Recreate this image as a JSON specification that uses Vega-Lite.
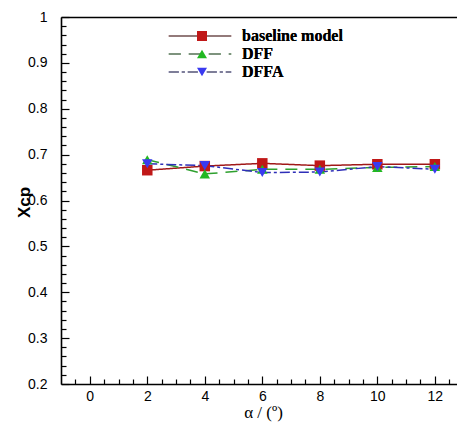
{
  "$schema": "https://vega.github.io/schema/vega-lite/v6.json",
  "width": 396,
  "height": 367,
  "autosize": "none",
  "padding": {"left": 61, "top": 17, "right": 0, "bottom": 38},
  "background": "white",
  "config": {"view": {"stroke": null}},
  "data": {
    "values": [
      {"series": "baseline model", "alpha": 2, "Xcp": 0.666},
      {"series": "baseline model", "alpha": 4, "Xcp": 0.675},
      {"series": "baseline model", "alpha": 6, "Xcp": 0.681},
      {"series": "baseline model", "alpha": 8, "Xcp": 0.676},
      {"series": "baseline model", "alpha": 10, "Xcp": 0.679},
      {"series": "baseline model", "alpha": 12, "Xcp": 0.679},
      {"series": "DFF", "alpha": 2, "Xcp": 0.689},
      {"series": "DFF", "alpha": 4, "Xcp": 0.658},
      {"series": "DFF", "alpha": 6, "Xcp": 0.668},
      {"series": "DFF", "alpha": 8, "Xcp": 0.668},
      {"series": "DFF", "alpha": 10, "Xcp": 0.672},
      {"series": "DFF", "alpha": 12, "Xcp": 0.674},
      {"series": "DFFA", "alpha": 2, "Xcp": 0.680},
      {"series": "DFFA", "alpha": 4, "Xcp": 0.676},
      {"series": "DFFA", "alpha": 6, "Xcp": 0.661},
      {"series": "DFFA", "alpha": 8, "Xcp": 0.662},
      {"series": "DFFA", "alpha": 10, "Xcp": 0.674},
      {"series": "DFFA", "alpha": 12, "Xcp": 0.668}
    ]
  },
  "resolve": {"axis": {"x": "independent", "y": "independent"}},
  "layer": [
    {
      "mark": {"type": "line", "strokeWidth": 1.5},
      "encoding": {
        "x": {
          "field": "alpha", "type": "quantitative",
          "scale": {"domain": [-1, 12.77], "nice": false, "zero": false},
          "axis": {
            "orient": "bottom", "values": [0, 2, 4, 6, 8, 10, 12], "grid": false,
            "tickSize": -8, "tickWidth": 1.2, "tickColor": "black",
            "domainColor": "black", "domainWidth": 1.6,
            "labelFont": "Liberation Sans", "labelFontSize": 14, "labelColor": "black",
            "labelPadding": 13,
            "title": "α / (º)", "titleFont": "Liberation Serif", "titleFontSize": 17,
            "titleFontWeight": "normal", "titleColor": "black",
            "titleX": 202, "titleY": 28, "titleBaseline": "middle", "titleAlign": "center"
          }
        },
        "y": {
          "field": "Xcp", "type": "quantitative",
          "scale": {"domain": [0.2, 1], "nice": false, "zero": false},
          "axis": {
            "orient": "left", "values": [0.2, 0.3, 0.4, 0.5, 0.6, 0.7, 0.8, 0.9, 1], "grid": false,
            "labelExpr": "datum.value == 1 ? '1' : format(datum.value, '.1f')",
            "tickSize": -8, "tickWidth": 1.2, "tickColor": "black",
            "domainColor": "black", "domainWidth": 1.6,
            "labelFont": "Liberation Sans", "labelFontSize": 14, "labelColor": "black",
            "labelPadding": 22,
            "title": "Xcp", "titleFont": "Liberation Sans", "titleFontSize": 17,
            "titleFontWeight": "bold", "titleColor": "black",
            "titleX": -37, "titleY": 185, "titleAngle": -90, "titleBaseline": "middle", "titleAlign": "center"
          }
        },
        "stroke": {
          "field": "series", "type": "nominal",
          "sort": ["baseline model", "DFF", "DFFA"],
          "scale": {"range": ["#a01818", "#2ea02e", "#2f2fb8"]},
          "legend": {
            "orient": "none", "legendX": 131, "legendY": 11, "title": null,
            "symbolType": "M-4.8,0H4.8", "symbolSize": 169, "symbolStrokeWidth": 1.5,
            "labelFont": "Liberation Serif", "labelFontSize": 16, "labelFontWeight": "bold",
            "labelColor": "black", "labelOffset": 34, "rowPadding": 2, "padding": 0,
            "encode": {"symbols": {"update": {"strokeDash": {"scale": "strokeDash", "field": "value"}}}}
          }
        },
        "strokeDash": {
          "field": "series", "type": "nominal",
          "sort": ["baseline model", "DFF", "DFFA"],
          "scale": {"range": [[1, 0], [12, 8], [10, 3, 3, 3]]},
          "legend": {
            "orient": "none", "legendX": 131, "legendY": 11, "title": null,
            "symbolType": "M-4.8,0H4.8", "symbolSize": 169, "symbolStrokeWidth": 1.5,
            "labelFont": "Liberation Serif", "labelFontSize": 16, "labelFontWeight": "bold",
            "labelColor": "black", "labelOffset": 34, "rowPadding": 2, "padding": 0,
            "encode": {"symbols": {"update": {"strokeDash": {"scale": "strokeDash", "field": "value"}}}}
          }
        }
      }
    },
    {
      "mark": {"type": "point", "filled": true, "size": 110, "opacity": 1},
      "encoding": {
        "x": {
          "field": "alpha", "type": "quantitative",
          "axis": {
            "orient": "bottom",
            "values": [-0.5, 0.5, 1, 1.5, 2.5, 3, 3.5, 4.5, 5, 5.5, 6.5, 7, 7.5, 8.5, 9, 9.5, 10.5, 11, 11.5, 12.5],
            "grid": false, "labels": false, "domain": false, "title": null,
            "tickSize": -5, "tickWidth": 1.2, "tickColor": "black"
          }
        },
        "y": {
          "field": "Xcp", "type": "quantitative",
          "axis": {
            "orient": "left",
            "values": [0.22, 0.24, 0.26, 0.28, 0.32, 0.34, 0.36, 0.38, 0.42, 0.44, 0.46, 0.48, 0.52, 0.54, 0.56, 0.58, 0.62, 0.64, 0.66, 0.68, 0.72, 0.74, 0.76, 0.78, 0.82, 0.84, 0.86, 0.88, 0.92, 0.94, 0.96, 0.98],
            "grid": false, "labels": false, "domain": false, "title": null,
            "tickSize": -5, "tickWidth": 1.2, "tickColor": "black"
          }
        },
        "fill": {
          "field": "series", "type": "nominal",
          "scale": {"domain": ["baseline model", "DFF", "DFFA"], "range": ["#c01818", "#22b822", "#3a3af0"]},
          "legend": {
            "orient": "none", "legendX": 133, "legendY": 11, "title": null,
            "symbolSize": 100, "symbolStrokeWidth": 0,
            "labelFont": "Liberation Serif", "labelFontSize": 16, "labelFontWeight": "bold",
            "labelExpr": "' '", "labelOpacity": 0, "rowPadding": 2, "padding": 0
          }
        },
        "shape": {
          "field": "series", "type": "nominal",
          "scale": {"domain": ["baseline model", "DFF", "DFFA"], "range": ["square", "triangle-up", "triangle-down"]},
          "legend": {
            "orient": "none", "legendX": 133, "legendY": 11, "title": null,
            "symbolSize": 100, "symbolStrokeWidth": 0,
            "labelFont": "Liberation Serif", "labelFontSize": 16, "labelFontWeight": "bold",
            "labelExpr": "' '", "labelOpacity": 0, "rowPadding": 2, "padding": 0
          }
        }
      }
    },
    {
      "mark": {"type": "point", "opacity": 0},
      "encoding": {
        "x": {
          "field": "alpha", "type": "quantitative",
          "axis": {
            "orient": "top", "ticks": false, "labels": false, "grid": false, "title": null,
            "domainColor": "black", "domainWidth": 1.6
          }
        },
        "y": {"field": "Xcp", "type": "quantitative", "axis": null}
      }
    }
  ]
}
